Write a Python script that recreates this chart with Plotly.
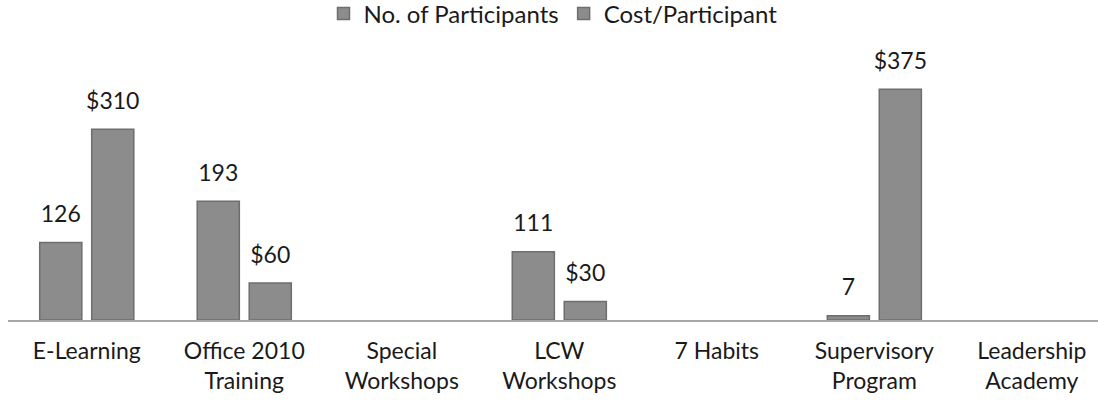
import plotly.graph_objects as go

categories = ["E-Learning", "Office 2010<br>Training", "Special<br>Workshops", "LCW<br>Workshops",
              "7 Habits", "Supervisory<br>Program", "Leadership<br>Academy"]
participants = [126, 193, None, 111, None, 7, None]
cost_per_participant = [310, 60, None, 30, None, 375, None]
series_names = ["No. of Participants", "Cost/Participant"]

bar_color = "#8c8c8c"
edge_color = "#6e6e6e"
font_family = "Lato, 'Open Sans', sans-serif"
label_font = dict(size=23, color="#1a1a1a", family=font_family)

participant_labels = [None if v is None else f"{v}" for v in participants]
cost_labels = [None if v is None else f"${v}" for v in cost_per_participant]

fig = go.Figure()
for name, vals, grp in [(series_names[0], participants, "a"), (series_names[1], cost_per_participant, "b")]:
    fig.add_trace(go.Bar(
        name=name, x=categories, y=vals, offsetgroup=grp,
        marker=dict(color=bar_color, line=dict(color=edge_color, width=1.5)),
    ))
for vals, labels, grp in [(participants, participant_labels, "a"), (cost_per_participant, cost_labels, "b")]:
    fig.add_trace(go.Scatter(
        x=categories, y=vals, offsetgroup=grp, mode="markers+text",
        text=labels, textposition="top center", textfont=label_font,
        marker=dict(size=22, color="rgba(0,0,0,0)"),
        showlegend=False, hoverinfo="skip", cliponaxis=False,
    ))

fig.update_layout(
    width=1098, height=400,
    margin=dict(l=8, r=0, t=35, b=80, autoexpand=False),
    paper_bgcolor="white", plot_bgcolor="white",
    barmode="group", bargap=0.34, bargroupgap=0.19,
    scattermode="group", scattergap=0.34,
    font=dict(family=font_family, size=23, color="#1a1a1a"),
    showlegend=True,
    legend=dict(orientation="h", x=0.5, xanchor="center", y=0.965, yanchor="middle",
                yref="container", font=dict(size=24), traceorder="normal",
                itemwidth=30, tracegroupgap=0),
)
fig.update_xaxes(range=[-0.5, 6.42], showline=True, linecolor="#a8a8a8", linewidth=2,
                 ticks="", tickfont=dict(size=23), ticklabelstandoff=9,
                 automargin=False, fixedrange=True)
fig.update_yaxes(range=[0, 463], visible=False, showgrid=False, zeroline=False)

fig.write_html("out.html", config={"displayModeBar": False},
               post_script="document.body.style.margin='0';")
